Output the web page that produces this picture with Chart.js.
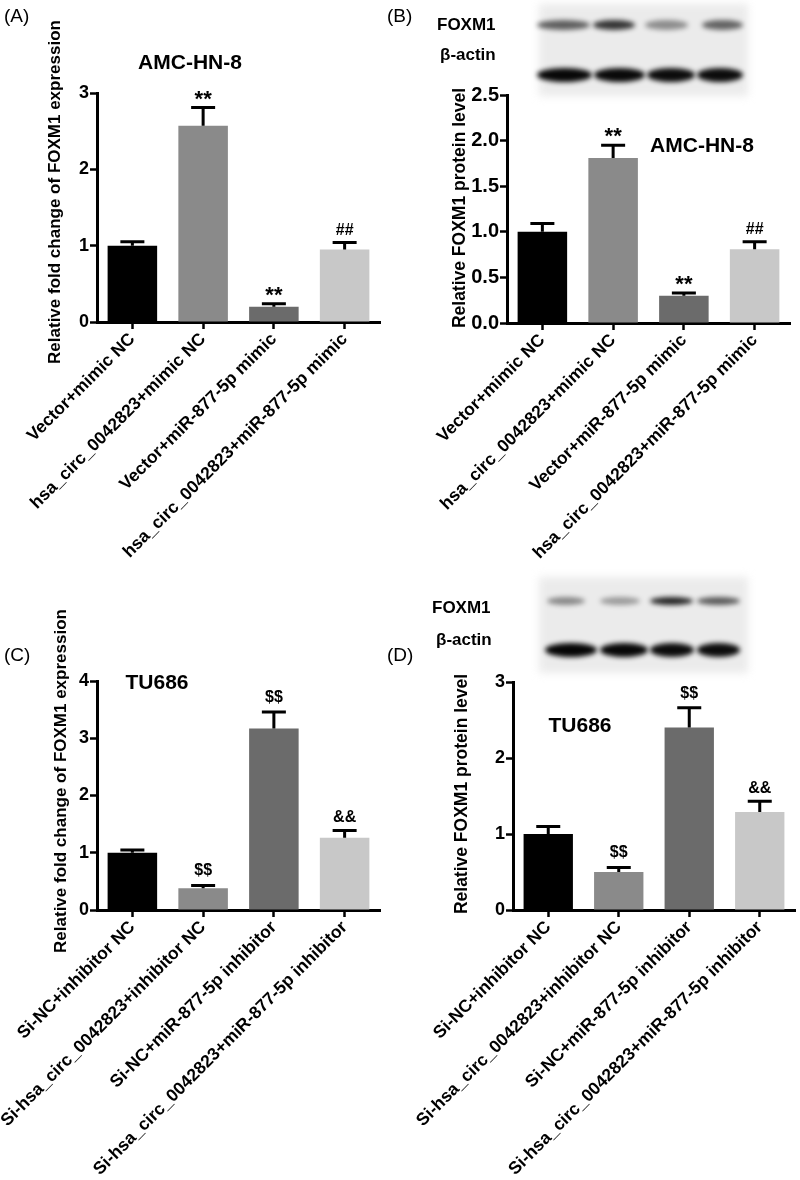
<!DOCTYPE html>
<html>
<head>
<meta charset="utf-8">
<script src="https://cdn.jsdelivr.net/npm/chart.js@4.4.1/dist/chart.umd.min.js"></script>
<style>
  body { margin: 0; background: #fff; }
  #wrap { position: relative; width: 800px; height: 1180px; }
  canvas { position: absolute; left: 0; top: 0; }
</style>
</head>
<body>
<div id="wrap">
  <canvas id="chartA" width="800" height="1180"></canvas>
  <canvas id="chartB" width="800" height="1180"></canvas>
  <canvas id="chartC" width="800" height="1180"></canvas>
  <canvas id="chartD" width="800" height="1180"></canvas>
</div>
<script>
'use strict';

// groups on the x axis
const mimicGroups = ['Vector+mimic NC', 'hsa_circ_0042823+mimic NC', 'Vector+miR-877-5p mimic', 'hsa_circ_0042823+miR-877-5p mimic'];
const inhibitorGroups = ['Si-NC+inhibitor NC', 'Si-hsa_circ_0042823+inhibitor NC', 'Si-NC+miR-877-5p inhibitor', 'Si-hsa_circ_0042823+miR-877-5p inhibitor'];

// (A) AMC-HN-8 qPCR
const foldA = [1.0, 2.57, 0.20, 0.95];
const errA = [0.05, 0.24, 0.04, 0.09];
const marksA = ['', '**', '**', '##'];
const ticksA = [0, 1, 2, 3];

// (B) AMC-HN-8 western blot
const proteinB = [1.0, 1.81, 0.30, 0.81];
const errB = [0.09, 0.14, 0.03, 0.08];
const marksB = ['', '**', '**', '##'];
const ticksB = [0, 0.5, 1.0, 1.5, 2.0, 2.5];

// (C) TU686 qPCR
const foldC = [1.0, 0.38, 3.17, 1.26];
const errC = [0.05, 0.05, 0.29, 0.13];
const marksC = ['', '$$', '$$', '&&'];
const ticksC = [0, 1, 2, 3, 4];

// (D) TU686 western blot
const proteinD = [1.0, 0.50, 2.40, 1.29];
const errD = [0.10, 0.06, 0.26, 0.14];
const marksD = ['', '$$', '$$', '&&'];
const ticksD = [0, 1, 2, 3];

// band strength on the blots (0..1)
const foxm1BandsB = [0.6, 0.78, 0.4, 0.58];
const actinBandsB = [0.97, 0.96, 0.95, 0.95];
const foxm1BandsD = [0.42, 0.34, 0.85, 0.62];
const actinBandsD = [0.98, 0.97, 0.95, 0.95];

const barGrays = ['#000000', '#8a8a8a', '#6b6b6b', '#c8c8c8'];
const FONT = "'Liberation Sans', Arial, sans-serif";

// error bars + significance marks
const errorPlugin = {
  id: 'errorMarks',
  afterDatasetsDraw(chart, args, opts) {
    let ctx = chart.ctx;
    let yScale = chart.scales.y;
    let meta = chart.getDatasetMeta(0);
    let values = chart.data.datasets[0].data;
    ctx.save();
    ctx.strokeStyle = '#000';
    ctx.fillStyle = '#000';
    ctx.lineWidth = 3;
    for (let i = 0; i < values.length; i++) {
      let x = meta.data[i].x;
      let yTop = yScale.getPixelForValue(values[i]);
      let yErr = yScale.getPixelForValue(values[i] + opts.errors[i]);
      ctx.beginPath();
      ctx.moveTo(x, yTop);
      ctx.lineTo(x, yErr);
      ctx.moveTo(x - 12, yErr);
      ctx.lineTo(x + 12, yErr);
      ctx.stroke();
      let mark = opts.marks[i];
      if (mark) {
        let size = mark === '**' ? 22 : 16;
        ctx.font = 'bold ' + size + 'px ' + FONT;
        ctx.textAlign = 'center';
        ctx.textBaseline = 'alphabetic';
        let m = ctx.measureText(mark);
        ctx.fillText(mark, x, yErr - 8 - m.actualBoundingBoxDescent);
      }
    }
    ctx.restore();
  }
};

// titles, panel letters, rotated y titles
const textPlugin = {
  id: 'panelText',
  afterDraw(chart, args, opts) {
    let ctx = chart.ctx;
    ctx.save();
    ctx.fillStyle = '#000';
    ctx.textBaseline = 'middle';
    (opts.items || []).forEach(t => {
      ctx.save();
      ctx.font = t.font;
      ctx.textAlign = t.align || 'center';
      ctx.translate(t.x, t.y);
      if (t.rotate) ctx.rotate(t.rotate);
      ctx.fillText(t.text, 0, 0);
      ctx.restore();
    });
    ctx.restore();
  }
};

// western blot strip drawn behind the chart
const blotPlugin = {
  id: 'blot',
  beforeDraw(chart, args, opts) {
    if (!opts.box) return;
    let ctx = chart.ctx;
    let b = opts.box;
    ctx.save();
    ctx.filter = 'blur(4px)';
    ctx.fillStyle = '#ebebeb';
    ctx.fillRect(b.x + 4, b.y + 4, b.w - 8, b.h - 8);
    ctx.filter = 'blur(2.5px)';
    opts.rows.forEach(row => {
      row.strength.forEach((s, i) => {
        let lane = row.lanes[i];
        ctx.fillStyle = 'rgba(0,0,0,' + s + ')';
        ctx.beginPath();
        ctx.ellipse((lane[0] + lane[1]) / 2, row.y, (lane[1] - lane[0]) / 2, row.h / 2, 0, 0, Math.PI * 2);
        ctx.fill();
      });
    });
    ctx.restore();

    ctx.save();
    ctx.fillStyle = '#000';
    ctx.font = 'bold 17px ' + FONT;
    ctx.textBaseline = 'middle';
    ctx.textAlign = 'left';
    opts.labels.forEach(l => ctx.fillText(l.text, l.x, l.y));
    ctx.restore();
  }
};

function makePanel(id, cfg) {
  let area = cfg.area;
  let xHeight = cfg.xHeight;
  let chartObj = {
    type: 'bar',
    data: {
      labels: cfg.labels,
      datasets: [{
        data: cfg.values,
        backgroundColor: barGrays,
        barPercentage: 0.7,
        categoryPercentage: 1
      }]
    },
    options: {
      responsive: false,
      animation: false,
      layout: {
        padding: { left: area.left - 45, top: area.top, right: 800 - area.right, bottom: 1180 - area.bottom - xHeight }
      },
      plugins: {
        legend: { display: false },
        tooltip: { enabled: false },
        errorMarks: { errors: cfg.errors, marks: cfg.marks },
        panelText: { items: cfg.text },
        blot: cfg.blot || {}
      },
      scales: {
        x: {
          afterFit: s => { s.height = xHeight; },
          grid: { display: true, drawOnChartArea: false, offset: false, tickLength: 7, tickWidth: 2.5, tickColor: '#000' },
          border: { color: '#000', width: 3 },
          ticks: {
            color: '#000',
            autoSkip: false,
            minRotation: 45,
            maxRotation: 45,
            padding: 0,
            font: { family: FONT, size: 17.5, weight: 'bold' }
          }
        },
        y: {
          min: 0,
          max: cfg.yMax,
          afterFit: s => { s.width = 45; },
          afterBuildTicks: s => { s.ticks = cfg.yTicks.map(v => ({ value: v })); },
          grid: { display: true, drawOnChartArea: false, tickLength: 7, tickWidth: 2.5, tickColor: '#000' },
          border: { color: '#000', width: 3 },
          ticks: {
            color: '#000',
            padding: 1,
            font: { family: FONT, size: cfg.tickSize, weight: 'bold' },
            callback: v => cfg.tickFormat(v)
          }
        }
      }
    },
    plugins: [blotPlugin, errorPlugin, textPlugin]
  };
  new Chart(document.getElementById(id), chartObj);
}

const titleFont = 'bold 21px ' + FONT;
const letterFont = '19px ' + FONT;
const up = -Math.PI / 2;

makePanel('chartA', {
  labels: mimicGroups, values: foldA, errors: errA, marks: marksA,
  yMax: 3, yTicks: ticksA, tickSize: 18, tickFormat: v => String(v),
  area: { left: 97, right: 380, top: 93, bottom: 322 }, xHeight: 250,
  text: [
    { text: '(A)', x: 4, y: 17, font: letterFont, align: 'left' },
    { text: 'AMC-HN-8', x: 190, y: 63, font: titleFont },
    { text: 'Relative fold change of FOXM1 expression', x: 55, y: 192, font: 'bold 17px ' + FONT, rotate: up }
  ]
});

makePanel('chartB', {
  labels: mimicGroups, values: proteinB, errors: errB, marks: marksB,
  yMax: 2.5, yTicks: ticksB, tickSize: 20, tickFormat: v => v.toFixed(1),
  area: { left: 507, right: 790, top: 95, bottom: 323 }, xHeight: 250,
  text: [
    { text: '(B)', x: 387, y: 17, font: letterFont, align: 'left' },
    { text: 'AMC-HN-8', x: 702, y: 146, font: titleFont },
    { text: 'Relative FOXM1 protein level', x: 460, y: 208, font: 'bold 17.5px ' + FONT, rotate: up }
  ],
  blot: {
    box: { x: 535, y: 0, w: 217, h: 100 },
    rows: [
      { y: 25, h: 10, strength: foxm1BandsB, lanes: [[537, 590], [593, 635], [645, 688], [702, 743]] },
      { y: 75, h: 14, strength: actinBandsB, lanes: [[537, 592], [594, 645], [647, 695], [697, 743]] }
    ],
    labels: [{ text: 'FOXM1', x: 437, y: 25 }, { text: 'β-actin', x: 440, y: 55 }]
  }
});

makePanel('chartC', {
  labels: inhibitorGroups, values: foldC, errors: errC, marks: marksC,
  yMax: 4, yTicks: ticksC, tickSize: 18, tickFormat: v => String(v),
  area: { left: 97, right: 380, top: 681, bottom: 910 }, xHeight: 268,
  text: [
    { text: '(C)', x: 4, y: 656, font: letterFont, align: 'left' },
    { text: 'TU686', x: 157, y: 683, font: titleFont },
    { text: 'Relative fold change of FOXM1 expression', x: 61, y: 781, font: 'bold 17px ' + FONT, rotate: up }
  ]
});

makePanel('chartD', {
  labels: inhibitorGroups, values: proteinD, errors: errD, marks: marksD,
  yMax: 3, yTicks: ticksD, tickSize: 18, tickFormat: v => String(v),
  area: { left: 513, right: 795, top: 682, bottom: 910 }, xHeight: 268,
  text: [
    { text: '(D)', x: 387, y: 656, font: letterFont, align: 'left' },
    { text: 'TU686', x: 580, y: 726, font: titleFont },
    { text: 'Relative FOXM1 protein level', x: 462, y: 794, font: 'bold 17.5px ' + FONT, rotate: up }
  ],
  blot: {
    box: { x: 535, y: 573, w: 217, h: 104 },
    rows: [
      { y: 601, h: 8, strength: foxm1BandsD, lanes: [[547, 585], [600, 640], [650, 693], [697, 740]] },
      { y: 650, h: 14, strength: actinBandsD, lanes: [[545, 597], [600, 648], [650, 694], [697, 740]] }
    ],
    labels: [{ text: 'FOXM1', x: 432, y: 608 }, { text: 'β-actin', x: 436, y: 640 }]
  }
});
</script>
</body>
</html>
